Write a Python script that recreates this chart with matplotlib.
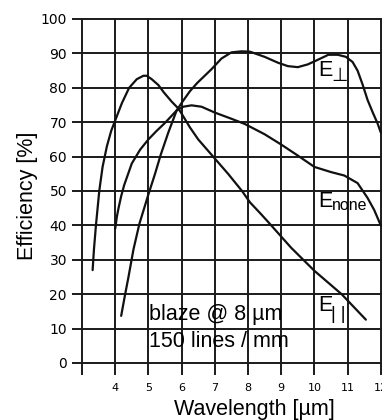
import matplotlib
matplotlib.use('Agg')
import matplotlib.pyplot as plt

# Grating efficiency vs wavelength, three polarisations
wl_par = [3.32, 3.36, 3.42, 3.52, 3.62, 3.75, 3.88, 4.0, 4.2, 4.42, 4.65, 4.85, 4.95,
          5.1, 5.3, 5.47, 5.7, 5.9, 6.0, 6.25, 6.5, 6.95, 7.4, 7.82, 8.06, 8.4,
          8.7, 9.3, 10.0, 10.82, 11.55]
eff_par = [27, 33, 40, 50, 57, 63, 67.5, 70.5, 75.5, 80, 82.5, 83.5, 83.5,
           82.5, 80.8, 78.6, 76, 74, 72.5, 68.5, 65, 60, 55, 50, 46.7, 43.2,
           40, 33.5, 26.8, 20, 12.6]

wl_none = [4.0, 4.05, 4.1, 4.18, 4.27, 4.5, 4.75, 5.0, 5.25, 5.5, 5.85, 6.05, 6.3,
           6.6, 7.0, 7.5, 7.9, 8.5, 9.0, 9.5, 10.0, 10.5, 10.9, 11.3, 11.6, 11.8, 12.0]
eff_none = [39, 42.5, 45, 48.5, 51.7, 58, 62, 65, 67.5, 69.8, 73.4, 74.5, 74.9,
            74.5, 72.8, 71, 69.5, 66.5, 63.5, 60.3, 57, 55.5, 54.5, 52.3, 48, 44.5, 40]

wl_perp = [4.18, 4.3, 4.4, 4.55, 4.73, 5.0, 5.2, 5.37, 5.6, 5.85, 6.0, 6.25, 6.47,
           6.9, 7.2, 7.5, 7.8, 8.06, 8.5, 8.9, 9.2, 9.5, 9.8, 10.05, 10.42, 10.7,
           10.95, 11.15, 11.3, 11.45, 11.6, 11.75, 11.9, 12.0]
eff_perp = [13.7, 20, 25, 33, 40.5, 49, 55, 60.5, 67, 73.4, 75.6, 79, 81.4,
            85.4, 88.5, 90.3, 90.6, 90.5, 89, 87.3, 86.3, 86, 86.8, 87.9, 89.6, 89.6,
            89, 87.5, 85, 81, 76.5, 73, 69.7, 67]

x_ticks = [4, 5, 6, 7, 8, 9, 10, 11, 12]
y_ticks = [0, 10, 20, 30, 40, 50, 60, 70, 80, 90, 100]
x_grid = [3, 4, 5, 6, 7, 8, 9, 10, 11, 12]

fig = plt.figure(figsize=(3.82, 4.2), dpi=100)
ax = fig.add_axes([0.18848, 0.10714, 0.81152, 0.85238])
ax.set_xlim(2.699, 12.036)
ax.set_ylim(-3.49, 100.58)

for s in ax.spines.values():
    s.set_visible(False)

grid_kw = dict(color='#1a1a1a', lw=1.4, zorder=1)
ax.hlines(y_ticks, 2.699, 12.036, **grid_kw)
ax.vlines(x_grid, -3.49, 100, **grid_kw)

line_kw = dict(color='#111111', lw=1.6, solid_capstyle='round', zorder=3)
ax.plot(wl_par, eff_par, **line_kw)
ax.plot(wl_none, eff_none, **line_kw)
ax.plot(wl_perp, eff_perp, **line_kw)

ax.set_xticks(x_ticks)
ax.set_xticklabels([str(v) for v in x_ticks], fontsize=8, family='DejaVu Sans')
ax.set_yticks(y_ticks)
ax.set_yticklabels([str(v) for v in y_ticks], fontsize=10, family='DejaVu Sans')
ax.tick_params(axis='x', length=0, pad=5.5)
ax.tick_params(axis='y', length=0, pad=3.6)

lab_font = ['Liberation Sans', 'DejaVu Sans']
ax.set_xlabel('Wavelength [µm]', fontsize=15.5, family=lab_font, va='center')
ax.xaxis.set_label_coords(0.589, -0.095)
ax.set_ylabel('Efficiency [%]', fontsize=15.5, family=lab_font, va='center')
ax.yaxis.set_label_coords(-0.145, 0.5)

# grating notes
ax.text(5.02, 12.5, 'blaze @ 8 µm', fontsize=15.5, family=lab_font, va='baseline', zorder=4)
ax.text(5.02, 4.65, '150 lines / mm', fontsize=15.5, family=lab_font, va='baseline', zorder=4)

# curve labels
ax.text(10.11, 83.4, 'E', fontsize=15.5, family=lab_font, va='baseline', zorder=4)
ax.text(10.52, 82.1, '⊥', fontsize=13.5, family=['DejaVu Sans'], va='baseline', zorder=4)
ax.text(10.11, 45.35, 'E', fontsize=15.5, family=lab_font, va='baseline', zorder=4)
ax.text(10.53, 44.5, 'none', fontsize=11.5, family=lab_font, va='baseline', zorder=4)
ax.text(10.11, 15.1, 'E', fontsize=15.5, family=lab_font, va='baseline', zorder=4)
ax.text(10.5, 12.8, '| |', fontsize=13, family=lab_font, va='baseline', zorder=4)

fig.savefig('out.png', dpi=100)
